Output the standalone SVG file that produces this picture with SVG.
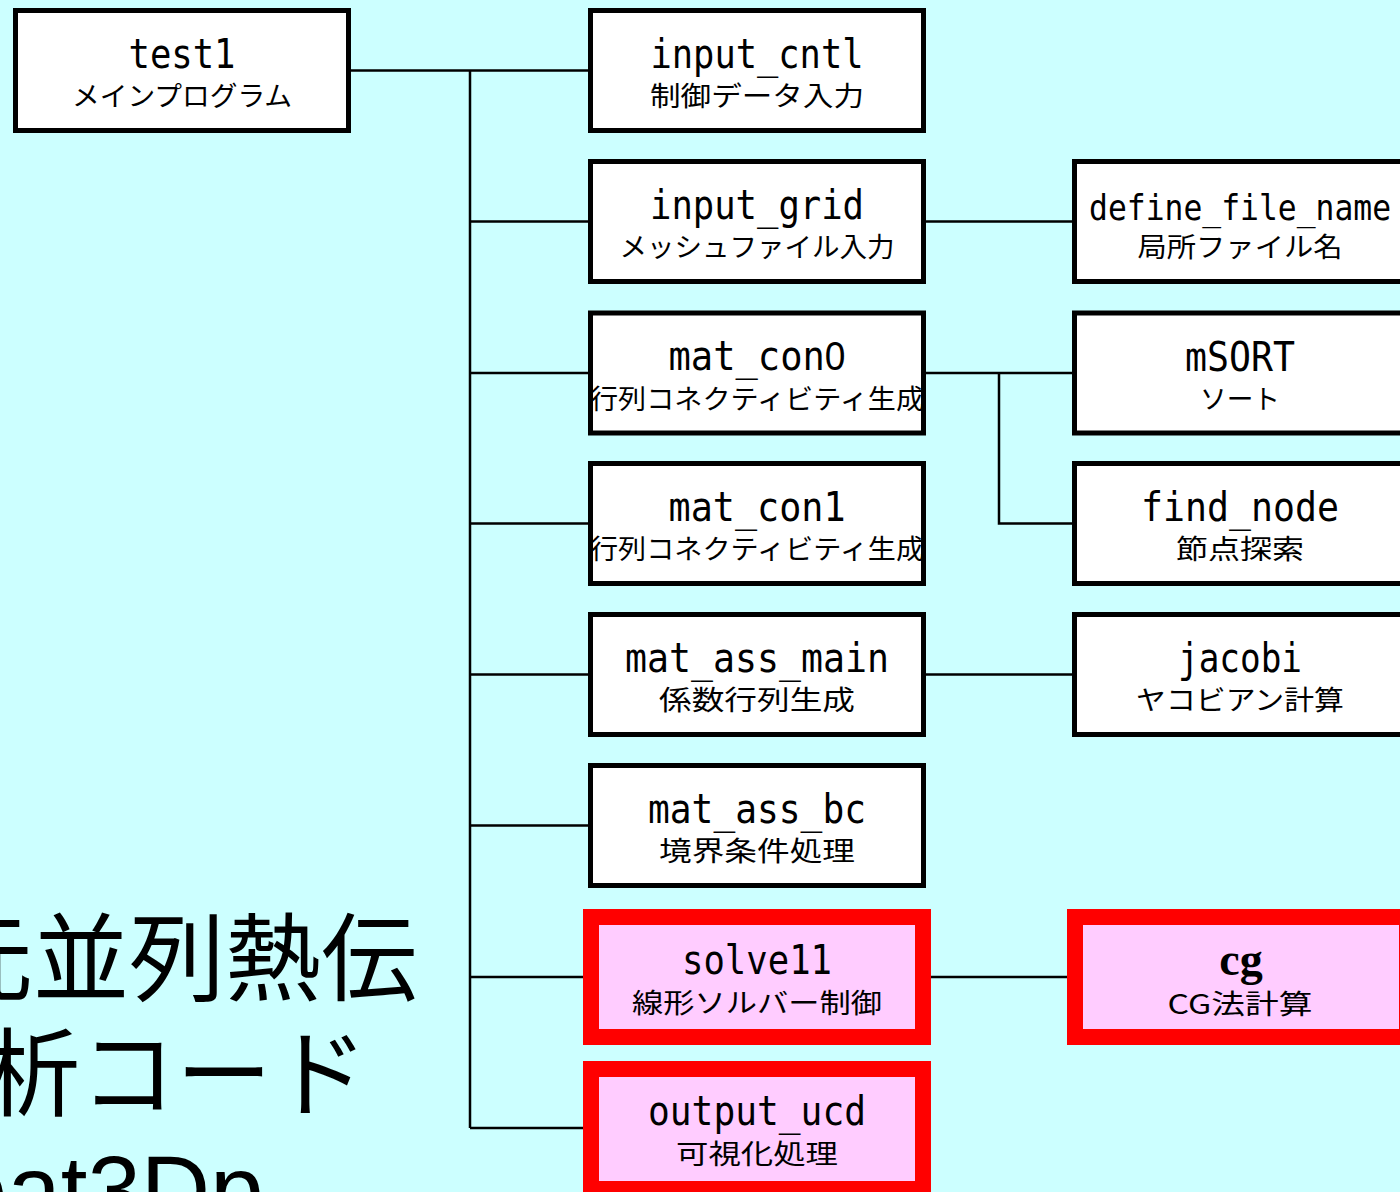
<svg xmlns="http://www.w3.org/2000/svg" width="1400" height="1192" viewBox="0 0 1400 1192">
<style>
.bg{fill:#CCFFFF}
.box{fill:#FFFFFF;stroke:#000000;stroke-width:5}
.hot{fill:#FFCCFF;stroke:#FF0000;stroke-width:16}
.t{font-family:"DejaVu Sans Mono","Liberation Mono",monospace;font-size:40px;fill:#000;text-anchor:middle}
.z{font-family:"Liberation Sans",sans-serif}
.s{font-family:"Noto Sans CJK JP","Noto Sans",sans-serif;font-size:27px;fill:#000;text-anchor:middle}
.cg{font-family:"Liberation Serif",serif;font-weight:bold;font-size:46px;fill:#000;text-anchor:middle}
.big{font-family:"Liberation Sans","Noto Sans CJK JP",sans-serif;font-size:96px;fill:#000}
.ln{fill:none;stroke:#000;stroke-width:2.5}
</style>
<rect class="bg" x="0" y="0" width="1400" height="1192"/>
<g id="title">
<text class="big" x="-63" y="993">元並列熱伝</text>
<text class="big" x="-16" y="1108">析コード</text>
<text class="big" x="-46" y="1223">eat3Dp</text>
</g>
<g id="connectors">
<path class="ln" d="M351 70.5H588"/>
<path class="ln" d="M470 70.5V1128"/>
<path class="ln" d="M470 221.5H588M470 373H588M470 523.5H588M470 674.5H588M470 825.5H588M470 977H584M470 1128H584"/>
<path class="ln" d="M926 221.5H1072"/>
<path class="ln" d="M926 373H1072M999 373V523.5H1072"/>
<path class="ln" d="M926 674.5H1072"/>
<path class="ln" d="M930 977H1068"/>
</g>
<g id="test1">
<rect class="box" x="15.5" y="10.5" width="333" height="120"/>
<text class="t" x="182" y="67.5" textLength="107" lengthAdjust="spacingAndGlyphs">test1</text>
<text class="s" x="182" y="106" textLength="220" lengthAdjust="spacingAndGlyphs">メインプログラム</text>
</g>
<g id="input_cntl">
<rect class="box" x="590.5" y="10.5" width="333" height="120"/>
<text class="t" x="757" y="67.5" textLength="213" lengthAdjust="spacingAndGlyphs">input_cntl</text>
<text class="s" x="757" y="106" textLength="214" lengthAdjust="spacingAndGlyphs">制御データ入力</text>
</g>
<g id="input_grid">
<rect class="box" x="590.5" y="161.5" width="333" height="120"/>
<text class="t" x="757" y="218.5" textLength="214" lengthAdjust="spacingAndGlyphs">input_grid</text>
<text class="s" x="757" y="257" textLength="275" lengthAdjust="spacingAndGlyphs">メッシュファイル入力</text>
</g>
<g id="mat_con0">
<rect class="box" x="590.5" y="313" width="333" height="120"/>
<text class="t" x="757" y="370" textLength="177" lengthAdjust="spacingAndGlyphs">mat_con<tspan class="z">0</tspan></text>
<text class="s" x="757" y="408.5" textLength="334" lengthAdjust="spacingAndGlyphs">行列コネクティビティ生成</text>
</g>
<g id="mat_con1">
<rect class="box" x="590.5" y="463.5" width="333" height="120"/>
<text class="t" x="757" y="520.5" textLength="177" lengthAdjust="spacingAndGlyphs">mat_con1</text>
<text class="s" x="757" y="559" textLength="334" lengthAdjust="spacingAndGlyphs">行列コネクティビティ生成</text>
</g>
<g id="mat_ass_main">
<rect class="box" x="590.5" y="614.5" width="333" height="120"/>
<text class="t" x="757" y="671.5" textLength="264" lengthAdjust="spacingAndGlyphs">mat_ass_main</text>
<text class="s" x="757" y="710" textLength="196" lengthAdjust="spacingAndGlyphs">係数行列生成</text>
</g>
<g id="mat_ass_bc">
<rect class="box" x="590.5" y="765.5" width="333" height="120"/>
<text class="t" x="757" y="822.5" textLength="218" lengthAdjust="spacingAndGlyphs">mat_ass_bc</text>
<text class="s" x="757" y="861" textLength="196" lengthAdjust="spacingAndGlyphs">境界条件処理</text>
</g>
<g id="solve11">
<rect class="hot" x="591" y="917" width="332" height="120"/>
<text class="t" x="757" y="974" textLength="150" lengthAdjust="spacingAndGlyphs">solve11</text>
<text class="s" x="757" y="1012.5" textLength="250" lengthAdjust="spacingAndGlyphs">線形ソルバー制御</text>
</g>
<g id="output_ucd">
<rect class="hot" x="591" y="1069" width="332" height="120"/>
<text class="t" x="757" y="1125" textLength="218" lengthAdjust="spacingAndGlyphs">output_ucd</text>
<text class="s" x="757" y="1163.5" textLength="162" lengthAdjust="spacingAndGlyphs">可視化処理</text>
</g>
<g id="define_file_name">
<rect class="box" x="1074.5" y="161.5" width="333" height="120"/>
<text class="t" x="1240" y="219.5" style="font-size:36px" textLength="302" lengthAdjust="spacingAndGlyphs">define_file_name</text>
<text class="s" x="1240" y="257" textLength="205" lengthAdjust="spacingAndGlyphs">局所ファイル名</text>
</g>
<g id="mSORT">
<rect class="box" x="1074.5" y="313" width="333" height="120"/>
<text class="t" x="1240" y="371" textLength="110" lengthAdjust="spacingAndGlyphs">mSORT</text>
<text class="s" x="1240" y="409" textLength="80" lengthAdjust="spacingAndGlyphs">ソート</text>
</g>
<g id="find_node">
<rect class="box" x="1074.5" y="463.5" width="333" height="120"/>
<text class="t" x="1240" y="520.5" textLength="198" lengthAdjust="spacingAndGlyphs">find_node</text>
<text class="s" x="1240" y="559" textLength="128" lengthAdjust="spacingAndGlyphs">節点探索</text>
</g>
<g id="jacobi">
<rect class="box" x="1074.5" y="614.5" width="333" height="120"/>
<text class="t" x="1240" y="671.5" textLength="124" lengthAdjust="spacingAndGlyphs">jacobi</text>
<text class="s" x="1240" y="710" textLength="208" lengthAdjust="spacingAndGlyphs">ヤコビアン計算</text>
</g>
<g id="cg">
<rect class="hot" x="1075" y="917" width="332" height="120"/>
<text class="cg" x="1241" y="975">cg</text>
<text class="s" x="1240" y="1013.5" textLength="145" lengthAdjust="spacingAndGlyphs">CG法計算</text>
</g>
</svg>
